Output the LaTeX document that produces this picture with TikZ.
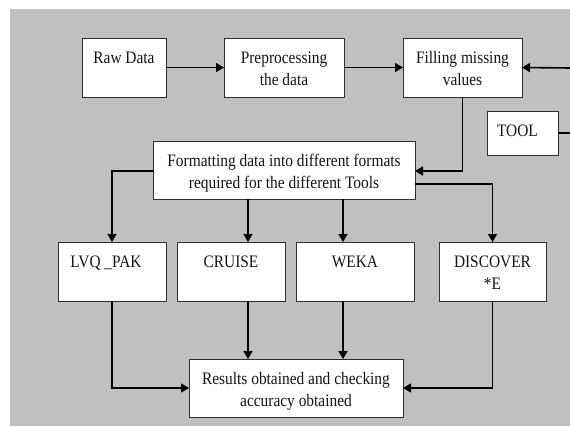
\documentclass[tikz,border=0pt]{standalone}
\usepackage{fontspec}
\setmainfont[FakeStretch=0.88]{Liberation Serif}
\usetikzlibrary{arrows.meta}
\definecolor{bgc}{HTML}{C0C0C0}
\definecolor{boxc}{HTML}{2E2E2E}
\definecolor{txtc}{HTML}{141414}
\newcommand{\bxt}[3]{\parbox[t][#2][t]{#1}{\centering\rule{0pt}{25pt}#3}}
\begin{document}
\begin{tikzpicture}[x=1pt,y=-1pt,
  boxnode/.style={draw=boxc, fill=white, line width=0.9pt, inner sep=0pt, outer sep=0pt,
    anchor=north west, text=txtc, font=\fontsize{17.5}{22.5}\selectfont},
  arr/.style={line width=1.6pt, -{Triangle[length=8pt,width=9pt]}},
  ln/.style={line width=1.6pt}]
\useasboundingbox (0,0) rectangle (570,426);
\fill[bgc] (10,9) rectangle (570,426);
% boxes
\node[boxnode] (raw)  at (82,38)  {\bxt{84pt}{59pt}{Raw Data}};
\node[boxnode] (prep) at (224,38) {\bxt{120pt}{59pt}{Preprocessing\\the data}};
\node[boxnode] (fill) at (403,38) {\bxt{119pt}{59pt}{Filling missing\\values}};
\node[boxnode] (tool) at (487,111) {\bxt{71pt}{44pt}{TOOL\hspace*{10pt}}};
\node[boxnode] (fmt)  at (153,141) {\bxt{262pt}{58pt}{Formatting data into different formats\\required for the different Tools}};
\node[boxnode] (lvq)  at (58,242)  {\bxt{108pt}{59pt}{LVQ \_PAK\hspace*{12pt}}};
\node[boxnode] (cru)  at (177,242) {\bxt{108pt}{59pt}{CRUISE}};
\node[boxnode] (weka) at (296,242) {\bxt{118pt}{59pt}{WEKA}};
\node[boxnode] (disc) at (439,242) {\bxt{107pt}{59pt}{DISCOVER\\\relax{*}E}};
\node[boxnode] (res)  at (189,359) {\bxt{214pt}{58pt}{Results obtained and checking\\accuracy obtained}};
% helper coordinates
\coordinate (redge1) at (570,68);
\coordinate (redge2) at (570,133);
\coordinate (xc) at (248,0);
\coordinate (xw) at (343,0);
\coordinate (yf) at (0,171);
\coordinate (yd) at (0,184);
% connectors
\draw[arr] (raw.east) -- (prep.west);
\draw[arr] (prep.east) -- (fill.west);
\draw[arr] (redge1) -- (fill.east);
\draw[ln] (tool.east) -- (redge2);
\draw[arr] (fill.south) |- (fmt.east |- yf);
\draw[arr] (fmt.west |- yf) -| (lvq.north);
\draw[arr] (fmt.south -| xc) -- (cru.north -| xc);
\draw[arr] (fmt.south -| xw) -- (weka.north -| xw);
\draw[arr] (fmt.east |- yd) -| (disc.north);
\draw[arr] (lvq.south) |- (res.west);
\draw[arr] (cru.south -| xc) -- (res.north -| xc);
\draw[arr] (weka.south -| xw) -- (res.north -| xw);
\draw[arr] (disc.south) |- (res.east);
\end{tikzpicture}
\end{document}
